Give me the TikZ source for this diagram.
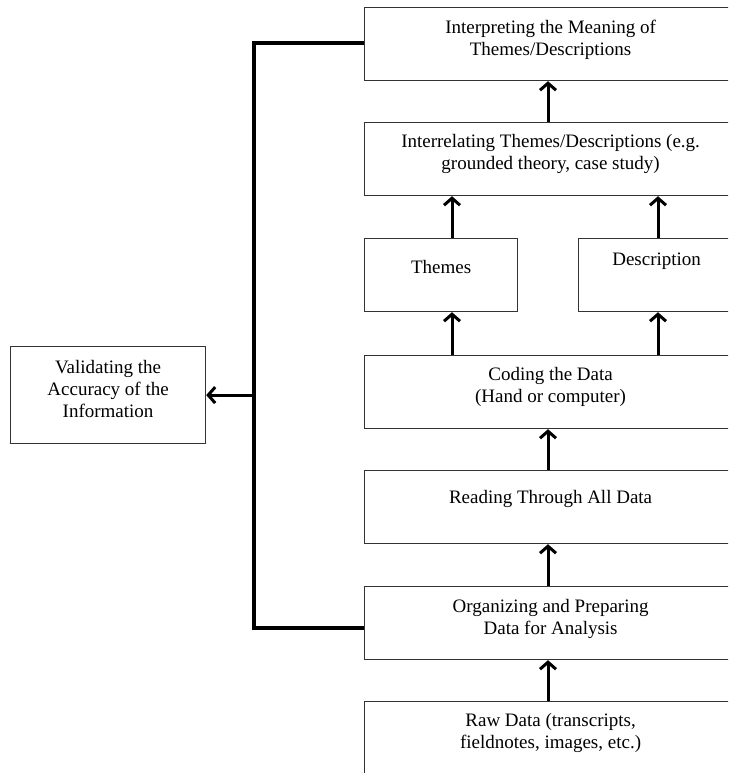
\documentclass[tikz,border=0pt]{standalone}
\usepackage{fontspec}
\setmainfont{Liberation Serif}
\usepackage{tikz}
\usetikzlibrary{arrows.meta}
\usetikzlibrary{calc}

% text inside a box: width, height, first baseline from top, lines
\newcommand{\stagetext}[4]{\parbox[c][#2][t]{#1}{\centering\vspace*{\dimexpr#3-15.4pt\relax}\strut#4}}

\begin{document}
\begin{tikzpicture}[x=1pt, y=-1pt,
	stage/.style={draw=black!80, line width=1.2pt, inner sep=0pt, anchor=north west, font=\fontsize{19}{22}\selectfont},
	flow/.style={line width=3pt, -{Straight Barb[length=7pt,width=16pt,line width=3pt]}},
	feedback/.style={line width=4pt}]
	\useasboundingbox (0,0) rectangle (728,773);
	\clip (0,0) rectangle (728,773);

	\node[stage] (interp) at (364,7) {\stagetext{372pt}{73pt}{26pt}{Interpreting the Meaning of\\ Themes/Descriptions}};
	\node[stage] (interrel) at (364,122) {\stagetext{372pt}{73pt}{25pt}{Interrelating Themes/Descriptions (e.g.\\ grounded theory, case study)}};
	\node[stage] (themes) at (364,238) {\stagetext{153pt}{73pt}{35pt}{Themes}};
	\node[stage] (descr) at (578,238) {\stagetext{156pt}{73pt}{27pt}{Description}};
	\node[stage] (coding) at (364,355) {\stagetext{372pt}{73pt}{25pt}{Coding the Data\\ (Hand or computer)}};
	\node[stage] (reading) at (364,470) {\stagetext{372pt}{73pt}{33pt}{Reading Through All Data}};
	\node[stage] (organ) at (364,586) {\stagetext{372pt}{73pt}{26pt}{Organizing and Preparing\\ Data for Analysis}};
	\node[stage] (raw) at (364,701) {\stagetext{372pt}{73pt}{25pt}{Raw Data (transcripts,\\ fieldnotes, images, etc.)}};
	\node[stage] (valid) at (10,346) {\stagetext{195pt}{97pt}{27pt}{Validating the\\ Accuracy of the\\ Information}};

	\coordinate (lx) at (452,0);
	\coordinate (rx) at (658,0);
	\coordinate (mx) at (548,0);
	\coordinate (bus) at (valid.east -| 254,0);

	\draw[flow] (raw.north -| mx) -- (organ.south -| mx);
	\draw[flow] (organ.north -| mx) -- (reading.south -| mx);
	\draw[flow] (reading.north -| mx) -- (coding.south -| mx);
	\draw[flow] (coding.north -| lx) -- (themes.south -| lx);
	\draw[flow] (coding.north -| rx) -- (descr.south -| rx);
	\draw[flow] (themes.north -| lx) -- (interrel.south -| lx);
	\draw[flow] (descr.north -| rx) -- (interrel.south -| rx);
	\draw[flow] (interrel.north -| mx) -- (interp.south -| mx);

	\draw[feedback] ($(interp.west)+(0,-1.5)$) -| (bus) |- ($(organ.west)+(0,4.5)$);
	\draw[flow] (bus) -- (valid.east);
\end{tikzpicture}
\end{document}
